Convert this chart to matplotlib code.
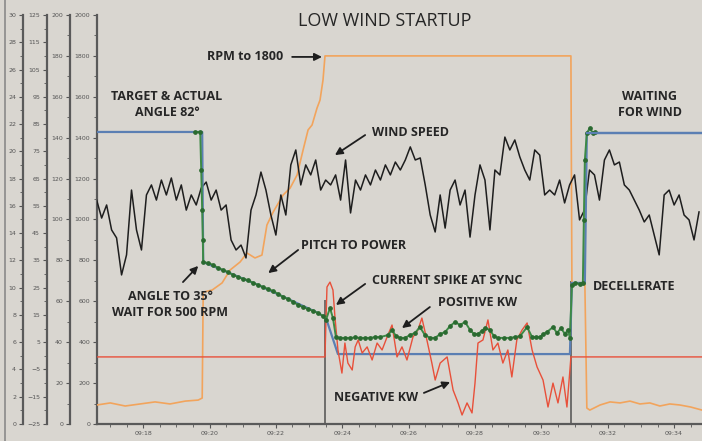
import numpy as np
import matplotlib
matplotlib.use("Agg")
import matplotlib.pyplot as plt
from matplotlib.ticker import MultipleLocator, FuncFormatter
from matplotlib.lines import Line2D

# ---- data (time in minutes after 09:00, values on the 0-2000 main scale)
wind_t0, wind_dt = 16.6, 0.15
wind = [1095, 1007, 1071, 949, 910, 729, 827, 1144, 949, 851, 1120, 1169, 1095, 1193, 1120,
        1203, 1095, 1169, 1046, 1120, 1071, 1154, 1183, 1095, 1144, 1046, 1071, 900, 851, 875,
        812, 1046, 1120, 1232, 1144, 1022, 924, 1120, 1022, 1267, 1340, 1169, 1267, 1218, 1291,
        1144, 1193, 1169, 1218, 1095, 1291, 1032, 1193, 1144, 1218, 1169, 1242, 1193, 1267, 1218,
        1281, 1242, 1291, 1355, 1291, 1301, 1169, 1022, 939, 1120, 958, 1144, 1193, 1071, 1144,
        914, 1120, 1267, 1193, 949, 1242, 1218, 1403, 1340, 1389, 1306, 1242, 1193, 1340, 1315,
        1120, 1144, 1120, 1193, 1081, 1169, 1218, 998, 1046, 1242, 1218, 1095, 1291, 1340, 1267,
        1281, 1169, 1144, 1095, 1046, 988, 1022, 924, 827, 1120, 1144, 1071, 1120, 1022, 998,
        900, 1037]

rpm_t = [16.61, 17.01, 17.46, 17.91, 18.36, 18.81, 19.27, 19.66, 19.78, 19.81, 20.08, 20.38,
         20.62, 20.92, 21.13, 21.37, 21.58, 21.73, 21.92, 22.22, 22.43, 22.64, 22.82, 22.97,
         23.09, 23.24, 23.33, 23.42, 23.48, 30.89, 30.92, 31.31, 31.37, 31.46, 31.77, 32.07,
         32.37, 32.67, 32.97, 33.27, 33.57, 33.87, 34.17, 34.5, 34.84]
rpm = [93, 103, 88, 98, 108, 98, 112, 117, 127, 645, 655, 690, 753, 792, 836, 812, 826, 973,
       1037, 1120, 1154, 1218, 1340, 1438, 1462, 1545, 1584, 1682, 1800, 1800, 690, 690, 78,
       68, 93, 108, 103, 112, 98, 103, 88, 98, 93, 83, 68]

target_t = [16.61, 19.78, 19.81, 21.46, 23.27, 23.51, 23.87, 30.86, 30.92, 31.31, 31.37, 34.84]
target = [1428, 1428, 792, 680, 543, 518, 342, 342, 690, 690, 1423, 1423]

angle_t = [19.57, 19.72, 19.75, 19.78, 19.80, 19.81, 19.96, 20.11, 20.26, 20.41, 20.56, 20.71,
           20.86, 21.01, 21.16, 21.31, 21.46, 21.61, 21.77, 21.92, 22.07, 22.22, 22.37, 22.52,
           22.67, 22.82, 22.97, 23.12, 23.27, 23.42, 23.51, 23.63, 23.72, 23.81, 23.93, 24.08,
           24.23, 24.39, 24.54, 24.69, 24.84, 24.99, 25.14, 25.38, 25.50, 25.62, 25.75, 25.89,
           26.04, 26.19, 26.34, 26.49, 26.65, 26.80, 26.95, 27.10, 27.25, 27.40, 27.55, 27.70,
           27.85, 27.97, 28.09, 28.20, 28.30, 28.45, 28.57, 28.69, 28.87, 29.05, 29.20, 29.36,
           29.57, 29.72, 29.84, 29.96, 30.06, 30.17, 30.35, 30.47, 30.59, 30.71, 30.80, 30.86,
           30.92, 31.01, 31.16, 31.25, 31.28, 31.31, 31.37, 31.46, 31.55, 31.61]
angle = [1428, 1428, 1242, 1046, 900, 792, 787, 778, 763, 753, 743, 729, 719, 709, 704, 690,
         680, 670, 660, 650, 636, 621, 611, 597, 582, 572, 562, 553, 543, 528, 509, 567, 518,
         425, 421, 421, 421, 423, 421, 421, 421, 425, 425, 435, 460, 430, 421, 421, 435, 445,
         474, 435, 421, 421, 440, 450, 479, 499, 484, 499, 460, 440, 440, 455, 469, 460, 430,
         421, 421, 421, 425, 430, 474, 425, 425, 425, 440, 450, 474, 445, 469, 440, 460, 421,
         680, 690, 685, 690, 998, 1291, 1423, 1447, 1423, 1428]

kw_t = [16.61, 23.48, 23.51, 23.54, 23.63, 23.72, 23.78, 23.87, 23.99, 24.08, 24.17, 24.30,
        24.39, 24.48, 24.60, 24.75, 24.90, 25.05, 25.20, 25.35, 25.50, 25.65, 25.80, 25.95,
        26.13, 26.28, 26.40, 26.55, 26.70, 26.80, 26.95, 27.16, 27.34, 27.49, 27.61, 27.76,
        27.91, 28.00, 28.09, 28.24, 28.39, 28.54, 28.69, 28.84, 28.99, 29.11, 29.26, 29.42,
        29.57, 29.72, 29.87, 30.05, 30.20, 30.35, 30.50, 30.65, 30.77, 30.86, 30.89, 34.84]
kw = [328, 328, 509, 670, 694, 655, 523, 362, 249, 396, 298, 264, 377, 411, 347, 377, 313,
      396, 362, 425, 484, 328, 377, 313, 425, 460, 518, 411, 298, 215, 298, 328, 166, 103, 44,
      103, 54, 200, 396, 411, 509, 362, 396, 298, 362, 230, 411, 460, 494, 362, 279, 215, 83,
      200, 103, 230, 83, 264, 328, 328]

sync_t = [23.48, 30.89]
sync_top = [606, 700]

xticks = [18, 20, 22, 24, 26, 28, 30, 32, 34]

wind_t = wind_t0 + wind_dt * np.arange(len(wind))

bg = "#d9d6d0"
fig = plt.figure(figsize=(7.02, 4.41), dpi=100, facecolor=bg)
ax = fig.add_axes([97 / 702, 17 / 441, 605 / 702, 409 / 441])
ax.set_facecolor(bg)

ax.vlines(sync_t, 0, sync_top, color="#505050", lw=1.1, zorder=2)
ax.plot(rpm_t, rpm, color="#f2a45c", lw=1.2, zorder=3)
ax.plot(wind_t, wind, color="#1e1e1e", lw=1.1, zorder=4)
ax.plot(target_t, target, color="#5b7fb3", lw=1.6, zorder=5)
ax.plot(kw_t, kw, color="#e8503a", lw=1.0, zorder=6)
ax.plot(angle_t, angle, color="#3d8a45", lw=1.4, marker="o", ms=2.4,
        mfc="#2a6a30", mec="#2a6a30", zorder=7)
# blue target drawn again where it sits above the green line
ax.plot(target_t[-2:], target[-2:], color="#5b7fb3", lw=1.6, zorder=8)

ax.set_xlim(16.61, 34.84)
ax.set_ylim(0, 2000)

tick_col = "#555555"
ax.xaxis.set_minor_locator(MultipleLocator(0.5))
ax.set_xticks(xticks)
ax.xaxis.set_major_formatter(FuncFormatter(lambda v, p: "09:%02d" % int(round(v))))
ax.yaxis.set_major_locator(MultipleLocator(200))
ax.yaxis.set_minor_locator(MultipleLocator(100))
ax.tick_params(axis="both", which="major", labelsize=4.5, colors=tick_col, length=3, width=0.8, pad=2)
ax.tick_params(axis="both", which="minor", colors=tick_col, length=2, width=0.6)
for s in ["top", "right"]:
    ax.spines[s].set_visible(False)
for s in ["left", "bottom"]:
    ax.spines[s].set_color("#5a5a5a")
    ax.spines[s].set_linewidth(1.6)

# extra left scales
extra = [(27, 0, 200, 20, 10), (50, -25, 125, 10, 5), (74, 0, 30, 2, 1)]
for off, lo, hi, maj, mnr in extra:
    tw = ax.twinx()
    tw.set_ylim(lo, hi)
    tw.yaxis.tick_left()
    for s in ["top", "right", "bottom"]:
        tw.spines[s].set_visible(False)
    tw.spines["left"].set_visible(True)
    tw.spines["left"].set_position(("outward", off * 0.72))
    tw.spines["left"].set_color("#5a5a5a")
    tw.spines["left"].set_linewidth(1.6)
    if lo == -25:
        tw.set_yticks(np.arange(lo, hi + 1, maj))
    else:
        tw.yaxis.set_major_locator(MultipleLocator(maj))
    tw.yaxis.set_minor_locator(MultipleLocator(mnr))
    tw.tick_params(axis="y", which="major", labelsize=4.5, colors=tick_col, length=3, width=0.8, pad=2)
    tw.tick_params(axis="y", which="minor", colors=tick_col, length=2, width=0.6)

fig.add_artist(Line2D([5 / 702, 5 / 702], [0, 1], transform=fig.transFigure, color="#8a8a8a", lw=1.2))

# ---- text
font = dict(family="Open Sans", fontweight="bold", color="#262626", fontsize=9)
fig.text(0.548, 0.952, "LOW WIND STARTUP", ha="center", va="center",
         family="Open Sans", color="#262626", fontsize=13)

arrow = dict(arrowstyle="-|>", color="#1e1e1e", lw=1.3, mutation_scale=11, shrinkA=0, shrinkB=0)

ax.text(21.07, 1795, "RPM to 1800", ha="center", va="center", zorder=10, **font)
ax.annotate("", xy=(23.39, 1795), xytext=(22.49, 1795), arrowprops=arrow, zorder=10)

ax.text(18.72, 1560, "TARGET & ACTUAL\nANGLE 82°", ha="center", va="center",
        linespacing=1.3, zorder=10, **font)

ax.text(26.07, 1423, "WIND SPEED", ha="center", va="center", zorder=10, **font)
ax.annotate("", xy=(23.78, 1315), xytext=(24.69, 1413), arrowprops=arrow, zorder=10)

ax.text(24.33, 875, "PITCH TO POWER", ha="center", va="center", zorder=10, **font)
ax.annotate("", xy=(21.77, 738), xytext=(22.67, 851), arrowprops=arrow, zorder=10)

ax.text(18.81, 585, "ANGLE TO 35°\nWAIT FOR 500 RPM", ha="center", va="center",
        linespacing=1.3, zorder=10, **font)
ax.annotate("", xy=(19.66, 773), xytext=(19.20, 694), arrowprops=arrow, zorder=10)

ax.text(27.16, 704, "CURRENT SPIKE AT SYNC", ha="center", va="center", zorder=10, **font)
ax.annotate("", xy=(23.81, 582), xytext=(24.69, 685), arrowprops=arrow, zorder=10)

ax.text(28.09, 592, "POSITIVE KW", ha="center", va="center", zorder=10, **font)
ax.annotate("", xy=(25.80, 469), xytext=(26.64, 572), arrowprops=arrow, zorder=10)

ax.text(25.02, 132, "NEGATIVE KW", ha="center", va="center", zorder=10, **font)
ax.annotate("", xy=(27.25, 205), xytext=(26.46, 152), arrowprops=arrow, zorder=10)

ax.text(31.55, 670, "DECELLERATE", ha="left", va="center", zorder=10, **font)

ax.text(33.27, 1560, "WAITING\nFOR WIND", ha="center", va="center",
        linespacing=1.3, zorder=10, **font)

fig.savefig("out.png", dpi=100, facecolor=bg)
